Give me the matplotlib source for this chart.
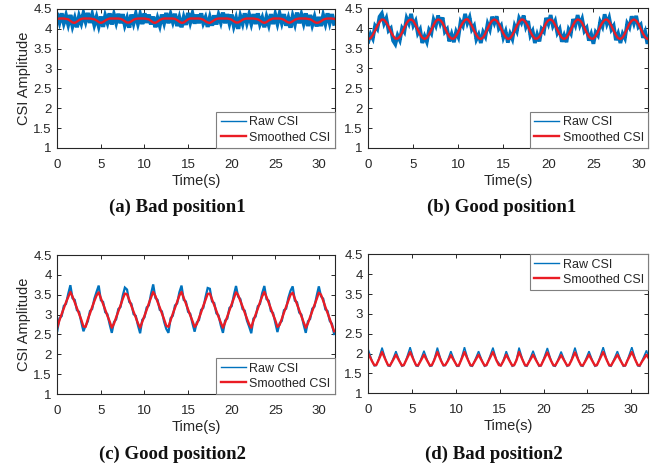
import numpy as np
import matplotlib.pyplot as plt
from matplotlib.lines import Line2D

plt.rcParams.update({
    "font.family": ["Liberation Sans", "DejaVu Sans"],
    "font.size": 9.5,
    "axes.linewidth": 0.8,
    "figure.facecolor": "white",
    "axes.facecolor": "white",
})

# sampling step (s) of the traces, panels a-c
dt = 0.25
n_samples = 128

xtick_vals = [0, 5, 10, 15, 20, 25, 30]
ytick_vals = [1, 1.5, 2, 2.5, 3, 3.5, 4, 4.5]
ytick_labels = ["1", "1.5", "2", "2.5", "3", "3.5", "4", "4.5"]
captions = ["(a) Bad position1", "(b) Good position1",
            "(c) Good position2", "(d) Bad position2"]

# (a) bad position 1
smooth_a = [
    4.25, 4.26, 4.26, 4.26, 4.25, 4.24, 4.20, 4.16, 4.15, 4.18, 4.22, 4.25, 4.26, 4.26, 4.26, 4.26,
    4.25, 4.24, 4.21, 4.17, 4.15, 4.17, 4.21, 4.24, 4.26, 4.26, 4.26, 4.26, 4.26, 4.25, 4.23, 4.19,
    4.16, 4.16, 4.19, 4.23, 4.25, 4.26, 4.26, 4.26, 4.26, 4.25, 4.24, 4.20, 4.16, 4.15, 4.18, 4.22,
    4.25, 4.26, 4.26, 4.26, 4.26, 4.26, 4.25, 4.22, 4.18, 4.15, 4.16, 4.20, 4.24, 4.26, 4.26, 4.26,
    4.26, 4.26, 4.25, 4.23, 4.19, 4.16, 4.15, 4.18, 4.22, 4.25, 4.26, 4.26, 4.26, 4.26, 4.26, 4.25,
    4.23, 4.19, 4.16, 4.16, 4.19, 4.23, 4.25, 4.26, 4.26, 4.26, 4.26, 4.25, 4.24, 4.21, 4.17, 4.15,
    4.17, 4.21, 4.24, 4.26, 4.26, 4.26, 4.26, 4.25, 4.23, 4.19, 4.16, 4.16, 4.19, 4.23, 4.25, 4.26,
    4.26, 4.26, 4.26, 4.25, 4.24, 4.21, 4.17, 4.15, 4.16, 4.19, 4.23, 4.25, 4.26, 4.26, 4.26, 4.25,
]
# raw CSI minus smoothed CSI
raw_a_dev = [
    0.10, -0.09, 0.13, -0.11, 0.08, -0.12, 0.15, -0.08, 0.11, -0.14, 0.09, -0.10, 0.12, -0.07, 0.14, -0.11,
    0.10, -0.13, 0.08, -0.09, 0.16, -0.12, 0.11, -0.08, 0.13, -0.15, 0.09, -0.10, 0.12, -0.11, 0.14, -0.09,
    0.10, -0.13, 0.17, -0.08, 0.11, -0.12, 0.09, -0.14, 0.13, -0.10, 0.12, -0.09, 0.15, -0.11, 0.08, -0.13,
    0.11, -0.10, 0.14, -0.12, 0.10, -0.08, 0.13, -0.15, 0.09, -0.11, 0.12, -0.10, 0.16, -0.09, 0.11, -0.13,
    0.10, -0.12, 0.14, -0.08, 0.09, -0.11, 0.13, -0.10, 0.12, -0.14, 0.08, -0.09, 0.15, -0.12, 0.11, -0.10,
    0.13, -0.11, 0.10, -0.16, 0.12, -0.09, 0.14, -0.10, 0.09, -0.12, 0.11, -0.13, 0.15, -0.08, 0.10, -0.11,
    0.12, -0.10, 0.13, -0.14, 0.09, -0.12, 0.11, -0.09, 0.14, -0.11, 0.10, -0.13, 0.12, -0.10, 0.16, -0.12,
    0.09, -0.11, 0.13, -0.18, 0.11, -0.10, 0.12, -0.09, 0.14, -0.12, 0.10, -0.11, 0.13, -0.10, 0.11, -0.12,
]

# (b) good position 1
smooth_b = [
    3.73, 3.75, 3.83, 3.94, 4.06, 4.16, 4.22, 4.21, 4.14, 4.04, 3.91, 3.81, 3.74, 3.74, 3.79, 3.89,
    4.01, 4.13, 4.20, 4.22, 4.18, 4.08, 3.96, 3.85, 3.76, 3.73, 3.76, 3.85, 3.96, 4.08, 4.18, 4.22,
    4.20, 4.13, 4.01, 3.89, 3.79, 3.74, 3.74, 3.81, 3.91, 4.04, 4.14, 4.21, 4.23, 4.16, 4.06, 3.94,
    3.83, 3.75, 3.73, 3.77, 3.87, 3.99, 4.11, 4.19, 4.22, 4.19, 4.11, 3.99, 3.87, 3.78, 3.73, 3.75,
    3.83, 3.94, 4.06, 4.16, 4.22, 4.21, 4.14, 4.04, 3.91, 3.81, 3.74, 3.74, 3.79, 3.89, 4.01, 4.13,
    4.20, 4.22, 4.18, 4.08, 3.96, 3.85, 3.76, 3.73, 3.76, 3.85, 3.96, 4.08, 4.18, 4.22, 4.20, 4.13,
    4.01, 3.89, 3.79, 3.74, 3.74, 3.81, 3.91, 4.04, 4.14, 4.21, 4.22, 4.16, 4.06, 3.94, 3.83, 3.75,
    3.73, 3.77, 3.87, 3.99, 4.11, 4.19, 4.22, 4.19, 4.11, 3.99, 3.87, 3.78, 3.73, 3.75, 3.83, 3.94,
]
raw_b_dev = [
    -0.07, 0.10, -0.09, 0.12, -0.08, 0.13, 0.15, -0.09, 0.11, -0.10, 0.09, -0.12, -0.14, 0.08, -0.09, 0.11,
    -0.10, 0.12, -0.08, 0.14, -0.11, 0.10, -0.09, 0.12, -0.13, 0.07, -0.10, 0.11, -0.09, 0.13, -0.11, 0.10,
    -0.08, 0.14, -0.10, 0.09, -0.12, 0.11, -0.09, 0.10, -0.13, 0.12, -0.08, 0.15, -0.10, 0.11, -0.09, 0.12,
    -0.11, 0.09, -0.10, 0.13, -0.08, 0.12, -0.14, 0.10, -0.09, 0.11, -0.12, 0.08, -0.10, 0.14, -0.09, 0.11,
    -0.10, 0.12, -0.13, 0.09, -0.08, 0.11, -0.10, 0.14, -0.09, 0.12, -0.11, 0.10, -0.12, 0.09, -0.10, 0.13,
    -0.09, 0.11, -0.12, 0.10, -0.08, 0.13, -0.10, 0.09, -0.11, 0.12, -0.09, 0.15, -0.10, 0.11, -0.12, 0.10,
    -0.08, 0.12, -0.10, 0.11, -0.13, 0.09, -0.09, 0.12, -0.10, 0.14, -0.11, 0.10, -0.09, 0.12, -0.13, 0.11,
    -0.10, 0.09, -0.12, 0.13, -0.09, 0.11, -0.10, 0.12, -0.08, 0.10, -0.11, 0.13, -0.12, 0.09, -0.10, 0.11,
]

# (c) good position 2
smooth_c = [
    2.68, 2.86, 3.01, 3.16, 3.31, 3.44, 3.57, 3.45, 3.31, 3.16, 3.02, 2.87, 2.70, 2.69, 2.88, 3.03,
    3.19, 3.34, 3.48, 3.56, 3.41, 3.27, 3.12, 2.97, 2.83, 2.67, 2.77, 2.93, 3.08, 3.23, 3.39, 3.53,
    3.51, 3.37, 3.22, 3.07, 2.93, 2.78, 2.67, 2.82, 2.97, 3.12, 3.28, 3.43, 3.57, 3.47, 3.32, 3.18,
    3.03, 2.88, 2.72, 2.69, 2.86, 3.02, 3.17, 3.32, 3.48, 3.57, 3.42, 3.28, 3.13, 2.98, 2.84, 2.69,
    2.76, 2.91, 3.06, 3.22, 3.37, 3.52, 3.53, 3.38, 3.24, 3.09, 2.94, 2.80, 2.67, 2.80, 2.95, 3.11,
    3.26, 3.41, 3.56, 3.49, 3.34, 3.20, 3.05, 2.90, 2.76, 2.67, 2.85, 3.00, 3.15, 3.31, 3.46, 3.57,
    3.44, 3.30, 3.15, 3.00, 2.86, 2.69, 2.74, 2.89, 3.05, 3.20, 3.35, 3.50, 3.55, 3.40, 3.26, 3.11,
    2.96, 2.81, 2.67, 2.78, 2.94, 3.09, 3.24, 3.39, 3.55, 3.50, 3.35, 3.19, 3.04, 2.89, 2.73, 2.58,
]
raw_c_dev = [
    -0.09, 0.05, -0.05, 0.06, -0.04, 0.08, 0.17, -0.04, 0.06, -0.05, 0.05, -0.06, -0.12, 0.03, -0.05, 0.06,
    -0.05, 0.06, 0.09, 0.17, -0.05, 0.05, -0.06, 0.04, -0.07, -0.13, 0.04, -0.05, 0.06, -0.04, 0.08, 0.15,
    0.12, -0.05, 0.05, -0.06, 0.04, -0.05, -0.14, 0.05, -0.04, 0.06, -0.05, 0.09, 0.19, -0.05, 0.05, -0.06,
    0.05, -0.06, -0.08, -0.15, 0.05, -0.05, 0.06, -0.04, 0.08, 0.16, -0.05, 0.05, -0.06, 0.04, -0.06, -0.12,
    0.04, -0.05, 0.06, -0.05, 0.07, 0.15, 0.12, -0.05, 0.05, -0.06, 0.04, -0.07, -0.13, 0.05, -0.05, 0.06,
    -0.05, 0.08, 0.16, -0.04, 0.05, -0.06, 0.05, -0.05, -0.06, -0.14, 0.05, -0.05, 0.06, -0.04, 0.08, 0.15,
    -0.05, 0.05, -0.06, 0.04, -0.06, -0.13, 0.04, -0.05, 0.06, -0.05, 0.07, 0.10, 0.16, -0.05, 0.05, -0.06,
    0.04, -0.06, -0.13, 0.05, -0.05, 0.06, -0.04, 0.08, 0.16, -0.04, 0.05, -0.06, 0.05, -0.05, 0.04, -0.07,
]

# (d) bad position 2: read at each peak, the fall, the trough and the rise
time_d = [
    0.00, 0.42, 0.68, 0.90, 1.16,
    1.57, 1.99, 2.25, 2.47, 2.73,
    3.15, 3.57, 3.83, 4.05, 4.31,
    4.77, 5.19, 5.45, 5.67, 5.93,
    6.35, 6.77, 7.03, 7.25, 7.51,
    7.88, 8.30, 8.56, 8.78, 9.04,
    9.42, 9.84, 10.10, 10.32, 10.58,
    10.97, 11.39, 11.65, 11.87, 12.13,
    12.58, 13.00, 13.26, 13.48, 13.74,
    14.22, 14.64, 14.90, 15.12, 15.38,
    15.74, 16.16, 16.42, 16.64, 16.90,
    17.20, 17.62, 17.88, 18.10, 18.36,
    18.80, 19.22, 19.48, 19.70, 19.96,
    20.43, 20.85, 21.11, 21.33, 21.59,
    22.00, 22.42, 22.68, 22.90, 23.16,
    23.58, 24.00, 24.26, 24.48, 24.74,
    25.18, 25.60, 25.86, 26.08, 26.34,
    26.80, 27.22, 27.48, 27.70, 27.96,
    28.42, 28.84, 29.10, 29.32, 29.58,
    30.07, 30.49, 30.75, 30.97, 31.23,
    31.74, 32.00,
]
smooth_d = [
    2.00, 1.81, 1.71, 1.71, 1.83,
    2.04, 1.83, 1.71, 1.70, 1.80,
    1.97, 1.80, 1.70, 1.71, 1.83,
    2.04, 1.83, 1.71, 1.70, 1.80,
    1.97, 1.80, 1.70, 1.71, 1.83,
    2.04, 1.82, 1.71, 1.71, 1.80,
    1.96, 1.80, 1.70, 1.70, 1.83,
    2.04, 1.83, 1.71, 1.70, 1.80,
    1.97, 1.80, 1.70, 1.71, 1.83,
    2.04, 1.82, 1.71, 1.70, 1.80,
    1.97, 1.80, 1.70, 1.71, 1.83,
    2.04, 1.83, 1.71, 1.70, 1.80,
    1.97, 1.80, 1.70, 1.70, 1.82,
    2.03, 1.82, 1.71, 1.70, 1.80,
    1.96, 1.80, 1.70, 1.71, 1.82,
    2.03, 1.82, 1.71, 1.70, 1.80,
    1.97, 1.80, 1.70, 1.71, 1.83,
    2.04, 1.83, 1.71, 1.70, 1.80,
    1.97, 1.80, 1.70, 1.70, 1.83,
    2.04, 1.83, 1.71, 1.70, 1.80,
    1.97, 1.88,
]
raw_d = [
    2.10, 1.82, 1.69, 1.70, 1.85,
    2.15, 1.84, 1.69, 1.68, 1.82,
    2.06, 1.81, 1.68, 1.70, 1.85,
    2.16, 1.84, 1.69, 1.68, 1.82,
    2.07, 1.81, 1.68, 1.69, 1.85,
    2.15, 1.83, 1.69, 1.70, 1.82,
    2.06, 1.81, 1.68, 1.68, 1.85,
    2.16, 1.84, 1.69, 1.68, 1.82,
    2.06, 1.81, 1.68, 1.70, 1.85,
    2.15, 1.83, 1.76, 1.68, 1.82,
    2.06, 1.81, 1.68, 1.70, 1.85,
    2.15, 1.84, 1.69, 1.68, 1.82,
    2.07, 1.81, 1.68, 1.69, 1.84,
    2.14, 1.83, 1.69, 1.68, 1.82,
    2.05, 1.81, 1.68, 1.70, 1.84,
    2.15, 1.83, 1.69, 1.68, 1.82,
    2.06, 1.81, 1.68, 1.70, 1.85,
    2.16, 1.84, 1.69, 1.68, 1.82,
    2.06, 1.81, 1.68, 1.69, 1.85,
    2.16, 1.84, 1.69, 1.68, 1.82,
    2.08, 1.90,
]

BLUE = "#0072BD"
RED = "#EA1C24"
AX_GRAY = "#262626"


def draw_panel(ax, t, raw, smooth, t_smooth, x_max, legend_loc, show_ylabel, raw_lw):
    # dense raw trace is drawn heavier so the noise reads as a band
    ax.plot(t, raw, color=BLUE, linewidth=raw_lw, solid_joinstyle="miter")
    ax.plot(t_smooth, smooth, color=RED, linewidth=1.7)

    ax.set_xlim(0, x_max)
    ax.set_ylim(1, 4.5)
    ax.set_xticks(xtick_vals)
    ax.set_yticks(ytick_vals)
    ax.set_yticklabels(ytick_labels)
    ax.tick_params(direction="in", length=3, width=0.7, top=True, right=True,
                   colors=AX_GRAY, labelsize=9.5)
    ax.tick_params(axis="x", pad=8)
    ax.tick_params(axis="y", pad=4)
    for sp in ax.spines.values():
        sp.set_color(AX_GRAY)

    ax.set_xlabel("Time(s)", fontsize=10.5, color=AX_GRAY, labelpad=2)
    if show_ylabel:
        ax.set_ylabel("CSI Amplitude", fontsize=10.5, color=AX_GRAY, labelpad=1.5)

    handles = [Line2D([], [], color=BLUE, linewidth=1.0),
               Line2D([], [], color=RED, linewidth=1.7)]
    leg = ax.legend(handles, ["Raw CSI", "Smoothed CSI"], loc=legend_loc,
                    fontsize=9, borderaxespad=0, fancybox=False,
                    framealpha=1, edgecolor="#7f7f7f", handlelength=2.0,
                    handletextpad=0.3, labelspacing=0.25, borderpad=0.35)
    leg.get_frame().set_linewidth(0.8)
    for txt in leg.get_texts():
        txt.set_color(AX_GRAY)


fig = plt.figure(figsize=(6.67, 4.68), dpi=100)

t_grid = np.arange(n_samples) * dt

ax_a = fig.add_axes([0.0859, 0.6838, 0.4163, 0.2970])
ax_b = fig.add_axes([0.5522, 0.6838, 0.4198, 0.2985])
ax_c = fig.add_axes([0.0859, 0.1581, 0.4163, 0.2970])
ax_d = fig.add_axes([0.5522, 0.1596, 0.4198, 0.2970])

draw_panel(ax_a, t_grid, np.array(smooth_a) + np.array(raw_a_dev), smooth_a, t_grid,
           31.85, "lower right", True, 3.0)
draw_panel(ax_b, t_grid, np.array(smooth_b) + np.array(raw_b_dev), smooth_b, t_grid,
           31.1, "lower right", False, 2.7)
draw_panel(ax_c, t_grid, np.array(smooth_c) + np.array(raw_c_dev), smooth_c, t_grid,
           31.85, "lower right", True, 1.6)
draw_panel(ax_d, time_d, raw_d, smooth_d, time_d,
           31.95, "upper right", False, 1.1)

caption_font = dict(family=["Liberation Serif", "DejaVu Serif"], weight="bold",
                    size=13.5, ha="center", va="center", color="#111111")
fig.text(0.266, 0.558, captions[0], **caption_font)
fig.text(0.752, 0.558, captions[1], **caption_font)
fig.text(0.259, 0.030, captions[2], **caption_font)
fig.text(0.741, 0.030, captions[3], **caption_font)

fig.savefig("out.png", dpi=100)
